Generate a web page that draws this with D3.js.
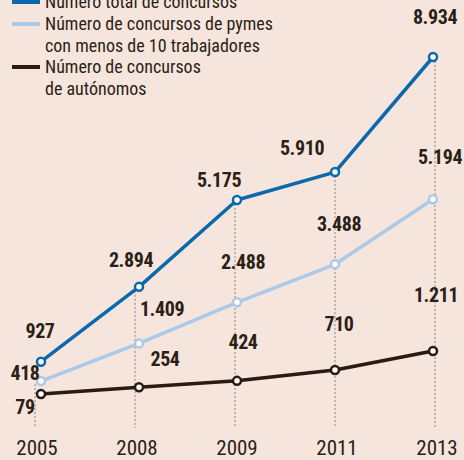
<!DOCTYPE html>
<html>
<head>
<meta charset="utf-8">
<script src="https://cdn.jsdelivr.net/npm/d3@7"></script>
<style>
  html, body { margin: 0; padding: 0; background: #f6e5dc; }
  svg { display: block; }
  text { font-family: "Liberation Sans Narrow", "Roboto Condensed", "DejaVu Sans Condensed", sans-serif; fill: #2b1f18; }
</style>
</head>
<body>
<div id="chart"></div>
<script>
// Data
const years = ["2005", "2008", "2009", "2011", "2013"];
const totalConcursos = [927, 2894, 5175, 5910, 8934];
const pymesConcursos = [418, 1409, 2488, 3488, 5194];
const autonomosConcursos = [79, 254, 424, 710, 1211];
const seriesNames = [
    ["Número total de concursos"],
    ["Número de concursos de pymes", "con menos de 10 trabajadores"],
    ["Número de concursos", "de autónomos"]
];

const width = 464;
const height = 460;

const series = [
    {name: seriesNames[0], values: totalConcursos, color: "#0a68ad",
     nudge: [[-1, -24], [-8, -20], [-18, -13], [-33, -17], [2, -33]]},
    {name: seriesNames[1], values: pymesConcursos, color: "#abc9e9",
     nudge: [[-16, -1], [23, -27], [6, -33], [4, -33], [7, -35]]},
    {name: seriesNames[2], values: autonomosConcursos, color: "#2a1a12",
     nudge: [[-16, 20], [26, -21], [6, -32], [4, -39], [3, -49]]}
];

const es = d3.formatLocale({decimal: ",", thousands: ".", grouping: [3], currency: ["", " €"]});
const fmt = es.format(",d");

const svg = d3.select("#chart")
    .append("svg")
    .attr("width", width)
    .attr("height", height);

svg.append("rect")
    .attr("width", width)
    .attr("height", height)
    .attr("fill", "#f6e5dc");

// Scales
const x = d3.scalePoint().domain(years).range([41, 433]);
const xGrid = d3.scalePoint().domain(years).range([35, 435]);
const y = d3.scaleLinear().domain([0, 8934]).range([397, 57]);

// Dotted guide lines
svg.selectAll(".guide")
    .data(years)
    .enter().append("line")
    .attr("class", "guide")
    .attr("x1", d => xGrid(d))
    .attr("x2", d => xGrid(d))
    .attr("y1", (d, i) => i === 0 ? y(pymesConcursos[0]) + 3 : y(totalConcursos[i]))
    .attr("y2", 428)
    .attr("stroke", "#8a8580")
    .attr("stroke-width", 1)
    .attr("stroke-dasharray", "2,2");

// Year labels
svg.selectAll(".year")
    .data(years)
    .enter().append("text")
    .attr("class", "year")
    .attr("x", d => xGrid(d) + 2)
    .attr("y", 455)
    .attr("text-anchor", "middle")
    .style("font-size", "21px")
    .text(d => d);

const line = d3.line()
    .x((d, i) => x(years[i]))
    .y(d => y(d));

// Lines, bottom series first
series.slice().reverse().forEach(s => {
    svg.append("path")
        .datum(s.values)
        .attr("d", line)
        .attr("fill", "none")
        .attr("stroke", s.color)
        .attr("stroke-width", 3.5)
        .attr("stroke-linejoin", "round");
});

series.forEach(s => {
    svg.selectAll(null)
        .data(s.values)
        .enter().append("circle")
        .attr("cx", (d, i) => x(years[i]))
        .attr("cy", d => y(d))
        .attr("r", 4)
        .attr("fill", "#ffffff")
        .attr("stroke", s.color)
        .attr("stroke-width", 2.5);

    svg.selectAll(null)
        .data(s.values)
        .enter().append("text")
        .attr("x", (d, i) => x(years[i]) + s.nudge[i][0])
        .attr("y", (d, i) => y(d) + s.nudge[i][1])
        .attr("text-anchor", "middle")
        .style("font-size", "20px")
        .style("font-weight", "bold")
        .style("letter-spacing", "-0.4px")
        .text(d => fmt(d));
});

// Legend
const legendRows = [8, 30, 73];
series.forEach((s, k) => {
    const g = svg.append("g")
        .attr("transform", `translate(0, ${legendRows[k]})`);
    g.append("line")
        .attr("x1", 12)
        .attr("x2", 40)
        .attr("y1", -6)
        .attr("y2", -6)
        .attr("stroke", s.color)
        .attr("stroke-width", 4);
    g.selectAll("text")
        .data(s.name)
        .enter().append("text")
        .attr("x", 45)
        .attr("y", (d, i) => i * 21.5)
        .style("font-size", "18px")
        .text(d => d);
});
</script>
</body>
</html>
